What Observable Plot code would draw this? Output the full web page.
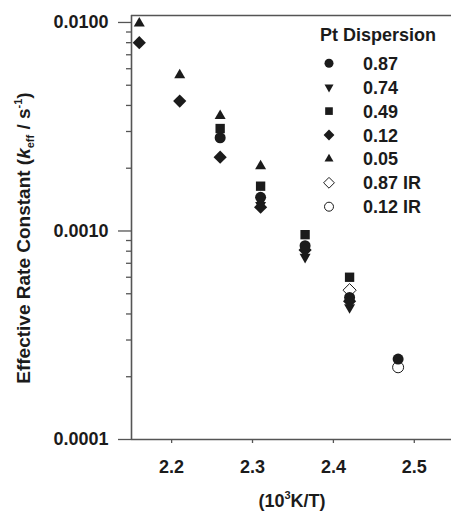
<!DOCTYPE html>
<html><head><meta charset="utf-8">
<script src="https://cdn.jsdelivr.net/npm/d3@7"></script>
<script src="https://cdn.jsdelivr.net/npm/@observablehq/plot@0.6"></script>
<style>body{margin:0;background:#fff;} #chart svg{display:block;}</style>
</head><body><div id="chart"></div>
<script>
// ---- data ----
const temps = [2.16, 2.21, 2.26, 2.31, 2.365, 2.42, 2.48];
const seriesNames = ["0.87", "0.74", "0.49", "0.12", "0.05", "0.87 IR", "0.12 IR"];
const k087   = [null, null, 0.00280, 0.00145, 0.00085, 0.00048, 0.000243];
const k074   = [null, null, null,    0.00133, 0.00075, 0.00043, null];
const k049   = [null, null, 0.00310, 0.00164, 0.00096, 0.00060, null];
const k012   = [0.0080, 0.0042, 0.00226, 0.00130, 0.00081, 0.00046, null];
const k005   = [0.0099, 0.0056, 0.00357, 0.00205, null, null, null];
const k087IR = [null, null, null, null, null, 0.00052, null];
const k012IR = [null, null, null, null, null, null, 0.000222];
const seriesValues = [k087, k074, k049, k012, k005, k087IR, k012IR];
const yTicks = [0.0001, 0.001, 0.01];
const yTickLabels = ["0.0001", "0.0010", "0.0100"];
const yMinorTicks = [0.0002,0.0003,0.0004,0.0005,0.0006,0.0007,0.0008,0.0009,
                     0.002,0.003,0.004,0.005,0.006,0.007,0.008,0.009];
const xTicks = [2.2, 2.3, 2.4, 2.5];
const xTickLabels = ["2.2", "2.3", "2.4", "2.5"];
const xDomain = [2.1504, 2.546];
const yDomain = [0.0001, 0.0108];
const legendTitle = "Pt Dispersion";

// ---- symbols ----
const sym = fn => ({draw(c, size) { fn(c, Math.sqrt(size / Math.PI)); }});
const circleSym = sym((c, r) => { c.moveTo(r, 0); c.arc(0, 0, r, 0, 2 * Math.PI); c.closePath(); });
const squareSym = sym((c, r) => { const a = 0.85 * r; c.moveTo(-a, -a); c.lineTo(a, -a); c.lineTo(a, a); c.lineTo(-a, a); c.closePath(); });
const triUpSym = sym((c, r) => { const s = 2 * r, h = s * Math.sqrt(3) / 2; c.moveTo(0, -2 * h / 3); c.lineTo(s / 2, h / 3); c.lineTo(-s / 2, h / 3); c.closePath(); });
const triDownSym = sym((c, r) => { const s = 2 * r, h = s * Math.sqrt(3) / 2; c.moveTo(0, 2 * h / 3); c.lineTo(s / 2, -h / 3); c.lineTo(-s / 2, -h / 3); c.closePath(); });
const diamondSym = sym((c, r) => { const d = 1.2 * r; c.moveTo(0, -d); c.lineTo(d, 0); c.lineTo(0, d); c.lineTo(-d, 0); c.closePath(); });
const symbols = [circleSym, triDownSym, squareSym, diamondSym, triUpSym, diamondSym, circleSym];
const filled = [true, true, true, true, true, false, false];
const drawOrder = [5, 6, 0, 1, 2, 3, 4];

const INK = "#1b1b1b", AXIS = "#555";
const FONT = "Arial, 'Liberation Sans', Helvetica, sans-serif";

const dotMarks = drawOrder.map(i => {
  const rows = [];
  seriesValues[i].forEach((v, j) => { if (v != null) rows.push({series: seriesNames[i], t: temps[j], k: v}); });
  return Plot.dot(rows, {
    x: "t", y: "k", r: 5.5, symbol: symbols[i],
    fill: filled[i] ? INK : "white",
    stroke: filled[i] ? "none" : INK, strokeWidth: 1
  });
});

const yLabelOf = d => yTickLabels[yTicks.findIndex(t => Math.abs(t - d) < 1e-12)];
const xLabelOf = d => xTickLabels[xTicks.findIndex(t => Math.abs(t - d) < 1e-9)];

const chart = Plot.plot({
  width: 451, height: 511,
  marginLeft: 131, marginTop: 15, marginBottom: 72, marginRight: 0,
  style: {fontFamily: FONT, color: INK, background: "white"},
  x: {domain: xDomain},
  y: {type: "log", domain: yDomain},
  marks: [
    Plot.axisY(yMinorTicks, {tickSize: 5, tickFormat: () => "", label: null, stroke: AXIS, strokeWidth: 1.3}),
    Plot.axisY(yTicks, {tickSize: 13, tickPadding: 10, tickFormat: yLabelOf, label: null,
      fontSize: 18, fontWeight: "bold", stroke: AXIS, strokeWidth: 1.3, fill: INK}),
    Plot.axisX(xTicks, {tickSize: 4, tickPadding: 17, tickFormat: xLabelOf, label: null,
      fontSize: 18, fontWeight: "bold", stroke: AXIS, strokeWidth: 1.3, fill: INK}),
    Plot.ruleY([yDomain[1]], {stroke: AXIS, strokeWidth: 1.6}),
    Plot.ruleY([yDomain[0]], {stroke: AXIS, strokeWidth: 1.6}),
    Plot.ruleX([xDomain[0]], {stroke: AXIS, strokeWidth: 1.6}),
    ...dotMarks
  ]
});
document.getElementById("chart").appendChild(chart);

// ---- axis titles and legend ----
const svg = d3.select(chart);
const yl = svg.append("text")
  .attr("transform", "translate(30,238) rotate(-90)")
  .attr("text-anchor", "middle").attr("font-family", FONT).attr("font-weight", "bold")
  .attr("font-size", 19).attr("fill", INK);
yl.append("tspan").text("Effective Rate Constant (");
yl.append("tspan").attr("font-style", "italic").text("k");
yl.append("tspan").attr("font-size", 11).attr("dy", 4).text("eff");
yl.append("tspan").attr("dy", -4).text(" / s");
yl.append("tspan").attr("font-size", 11).attr("dy", -8).text("-1");
yl.append("tspan").attr("dy", 8).text(")");

const xl = svg.append("text")
  .attr("x", 292).attr("y", 507)
  .attr("text-anchor", "middle").attr("font-family", FONT).attr("font-weight", "bold")
  .attr("font-size", 18).attr("fill", INK);
xl.append("tspan").text("(10");
xl.append("tspan").attr("font-size", 11).attr("dy", -8).text("3");
xl.append("tspan").attr("dy", 8).text("K/T)");

const lg = svg.append("g").attr("font-family", FONT).attr("font-weight", "bold").attr("font-size", 18).attr("fill", INK);
lg.append("text").attr("x", 378).attr("y", 41).attr("text-anchor", "middle").text(legendTitle);
seriesNames.forEach((name, i) => {
  const cy = 63.3 + i * 23.9;
  lg.append("path")
    .attr("d", d3.symbol(symbols[i], Math.PI * 4.5 * 4.5)())
    .attr("transform", `translate(329,${cy})`)
    .attr("fill", filled[i] ? INK : "white")
    .attr("stroke", filled[i] ? "none" : INK).attr("stroke-width", 1);
  lg.append("text").attr("x", 363).attr("y", cy + 6.5).attr("text-anchor", "start").text(name);
});
</script>
</body></html>
